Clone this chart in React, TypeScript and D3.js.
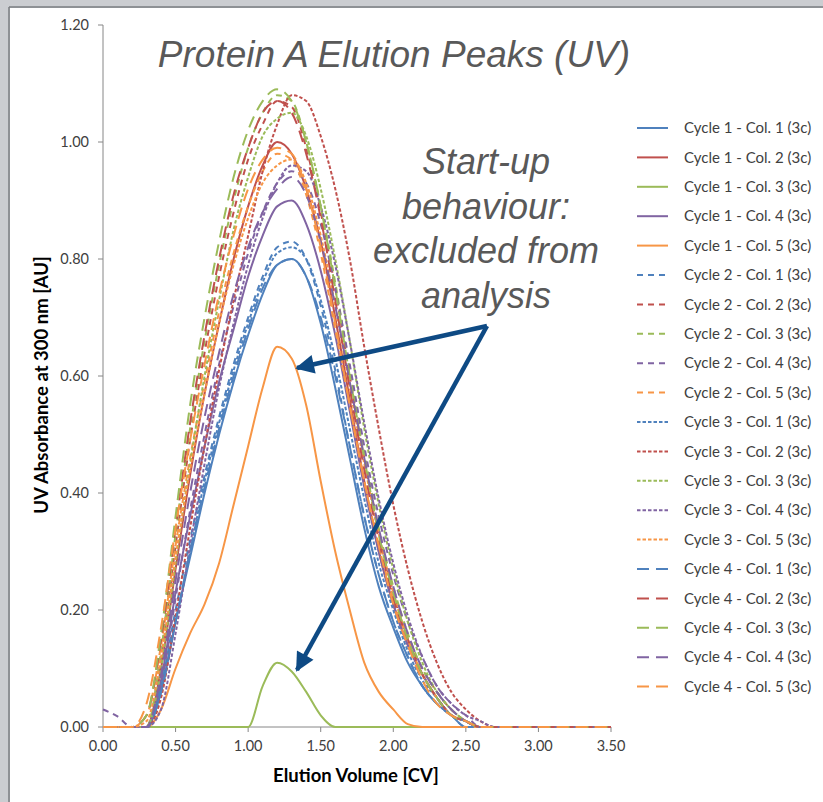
import * as d3 from "d3";
import React from "react";

// elution volume grid [CV]
const volume = [0, 0.1, 0.2, 0.3, 0.4, 0.5, 0.6, 0.7, 0.8, 0.9, 1.0, 1.1, 1.2, 1.3, 1.4, 1.5, 1.6, 1.7, 1.8, 1.9, 2.0, 2.1, 2.2, 2.3, 2.4, 2.5, 2.6, 2.7, 3.5];

// UV absorbance [AU], one array per run
const c1col1 = [0, 0, 0, 0, 0.06, 0.18, 0.29, 0.40, 0.50, 0.59, 0.67, 0.74, 0.79, 0.80, 0.77, 0.69, 0.58, 0.46, 0.34, 0.24, 0.17, 0.11, 0.07, 0.04, 0.02, 0, 0, 0, 0];
const c1col2 = [0, 0, 0, 0, 0.10, 0.27, 0.43, 0.57, 0.69, 0.80, 0.89, 0.96, 1.00, 0.98, 0.92, 0.83, 0.70, 0.56, 0.42, 0.30, 0.21, 0.14, 0.09, 0.05, 0.02, 0.01, 0, 0, 0];
const c1col3 = [0, 0, 0, 0, 0, 0, 0, 0, 0, 0, 0, 0.07, 0.11, 0.095, 0.06, 0.02, 0, 0, 0, 0, 0, 0, 0, 0, 0, 0, 0, 0, 0];
const c1col4 = [0, 0, 0, 0, 0.08, 0.23, 0.36, 0.48, 0.59, 0.68, 0.77, 0.84, 0.89, 0.90, 0.86, 0.78, 0.67, 0.54, 0.41, 0.30, 0.21, 0.14, 0.09, 0.05, 0.02, 0.01, 0, 0, 0];
const c1col5 = [0, 0, 0, 0, 0.03, 0.10, 0.16, 0.21, 0.28, 0.38, 0.48, 0.58, 0.65, 0.63, 0.55, 0.42, 0.30, 0.20, 0.11, 0.06, 0.03, 0.005, 0, 0, 0, 0, 0, 0, 0];
const c2col1 = [0, 0, 0, 0, 0.07, 0.20, 0.32, 0.43, 0.53, 0.62, 0.70, 0.77, 0.82, 0.83, 0.80, 0.72, 0.61, 0.48, 0.36, 0.26, 0.18, 0.12, 0.07, 0.04, 0.02, 0, 0, 0, 0];
const c2col2 = [0, 0, 0, 0, 0.12, 0.31, 0.49, 0.64, 0.77, 0.88, 0.97, 1.03, 1.07, 1.06, 0.99, 0.88, 0.75, 0.60, 0.46, 0.33, 0.23, 0.15, 0.10, 0.06, 0.03, 0.01, 0, 0, 0];
const c2col3 = [0, 0, 0, 0, 0.13, 0.33, 0.51, 0.66, 0.79, 0.90, 0.99, 1.05, 1.08, 1.07, 1.00, 0.89, 0.76, 0.61, 0.47, 0.34, 0.24, 0.16, 0.10, 0.06, 0.03, 0.01, 0, 0, 0];
const c2col4 = [0.03, 0.018, 0, 0, 0.07, 0.22, 0.37, 0.50, 0.62, 0.72, 0.81, 0.88, 0.93, 0.95, 0.93, 0.86, 0.75, 0.62, 0.48, 0.36, 0.26, 0.18, 0.12, 0.07, 0.04, 0.02, 0, 0, 0];
const c2col5 = [0, 0, 0, 0.02, 0.14, 0.31, 0.46, 0.59, 0.71, 0.81, 0.89, 0.95, 0.98, 0.97, 0.91, 0.81, 0.68, 0.55, 0.42, 0.31, 0.22, 0.15, 0.09, 0.05, 0.02, 0.01, 0, 0, 0];
const c3col1 = [0, 0, 0, 0, 0.06, 0.18, 0.30, 0.42, 0.52, 0.61, 0.69, 0.76, 0.81, 0.82, 0.80, 0.73, 0.63, 0.51, 0.39, 0.28, 0.20, 0.13, 0.08, 0.05, 0.02, 0.01, 0, 0, 0];
const c3col2 = [0, 0, 0, 0, 0.05, 0.19, 0.34, 0.48, 0.61, 0.73, 0.84, 0.95, 1.03, 1.08, 1.07, 1.01, 0.92, 0.80, 0.65, 0.51, 0.38, 0.27, 0.18, 0.11, 0.06, 0.03, 0.01, 0, 0];
const c3col3 = [0, 0, 0, 0, 0.10, 0.28, 0.45, 0.60, 0.73, 0.85, 0.94, 1.01, 1.04, 1.05, 1.01, 0.92, 0.80, 0.66, 0.51, 0.38, 0.27, 0.18, 0.11, 0.06, 0.03, 0.01, 0, 0, 0];
const c3col4 = [0, 0, 0, 0, 0.03, 0.16, 0.31, 0.45, 0.58, 0.69, 0.79, 0.87, 0.93, 0.96, 0.95, 0.89, 0.79, 0.66, 0.52, 0.39, 0.28, 0.19, 0.12, 0.07, 0.04, 0.02, 0.01, 0, 0];
const c3col5 = [0, 0, 0, 0.01, 0.12, 0.29, 0.44, 0.57, 0.69, 0.79, 0.87, 0.93, 0.96, 0.97, 0.93, 0.84, 0.72, 0.58, 0.45, 0.33, 0.23, 0.15, 0.09, 0.05, 0.02, 0.01, 0, 0, 0];
const c4col1 = [0, 0, 0, 0, 0.06, 0.18, 0.30, 0.41, 0.51, 0.60, 0.68, 0.75, 0.79, 0.80, 0.77, 0.70, 0.60, 0.48, 0.36, 0.26, 0.18, 0.12, 0.07, 0.04, 0.02, 0.01, 0, 0, 0];
const c4col2 = [0, 0, 0, 0.02, 0.15, 0.34, 0.52, 0.67, 0.80, 0.91, 0.99, 1.05, 1.07, 1.05, 0.98, 0.87, 0.73, 0.58, 0.44, 0.32, 0.22, 0.15, 0.09, 0.05, 0.02, 0.01, 0, 0, 0];
const c4col3 = [0, 0, 0, 0.02, 0.16, 0.36, 0.55, 0.70, 0.83, 0.94, 1.02, 1.07, 1.09, 1.07, 1.00, 0.89, 0.75, 0.60, 0.46, 0.33, 0.23, 0.15, 0.09, 0.05, 0.02, 0.01, 0, 0, 0];
const c4col4 = [0, 0, 0, 0, 0.09, 0.25, 0.40, 0.53, 0.64, 0.74, 0.82, 0.88, 0.92, 0.94, 0.91, 0.83, 0.72, 0.59, 0.46, 0.34, 0.24, 0.16, 0.10, 0.06, 0.03, 0.01, 0, 0, 0];
const c4col5 = [0, 0, 0, 0.04, 0.17, 0.34, 0.49, 0.62, 0.74, 0.84, 0.92, 0.97, 0.99, 0.98, 0.92, 0.82, 0.69, 0.55, 0.42, 0.31, 0.21, 0.14, 0.08, 0.04, 0.02, 0.01, 0, 0, 0];

const runs = [
  [c1col1, c1col2, c1col3, c1col4, c1col5],
  [c2col1, c2col2, c2col3, c2col4, c2col5],
  [c3col1, c3col2, c3col3, c3col4, c3col5],
  [c4col1, c4col2, c4col3, c4col4, c4col5],
];

const cycles = [1, 2, 3, 4];
const columns = [1, 2, 3, 4, 5];
const xTicks = [0, 0.5, 1, 1.5, 2, 2.5, 3, 3.5];
const yTicks = [0, 0.2, 0.4, 0.6, 0.8, 1.0, 1.2];

const colColors = ["#4F81BD", "#C0504D", "#9BBB59", "#8064A2", "#F79646"];
const cycleDash = [null, "6,5", "3.5,2", "12,7"];

const title = "Protein A Elution Peaks (UV)";
const note = ["Start-up", "behaviour:", "excluded from", "analysis"];

const font = "Lato, 'Liberation Sans', sans-serif";
const bigFont = "'Liberation Sans', Arial, sans-serif";

function App() {
  const width = 823;
  const height = 802;

  const x = d3.scaleLinear().domain([0, 3.5]).range([103, 611]);
  const y = d3.scaleLinear().domain([0, 1.2]).range([727, 25]);
  const fmt = d3.format(".2f");

  const line = d3.line<number>()
    .x((d, i) => x(volume[i]))
    .y((d) => y(d))
    .curve(d3.curveMonotoneX);

  const series = [];
  cycles.forEach((c, ci) => {
    columns.forEach((col, k) => {
      series.push({
        name: `Cycle ${c} - Col. ${col} (3c)`,
        values: runs[ci][k],
        color: colColors[k],
        dash: cycleDash[ci],
      });
    });
  });

  const arrowColor = "#0E4A84";
  const apex = [487, 326];
  const tips = [[297, 368], [297, 670]];

  return (
    <svg width={width} height={height} style={{ position: "absolute", left: 0, top: 0 }}>
      <defs>
        <marker id="head" viewBox="0 0 10 10" refX="9" refY="5" markerWidth="4.4" markerHeight="4.2" orient="auto" markerUnits="strokeWidth">
          <path d="M0,0 L10,5 L0,10 z" fill={arrowColor} />
        </marker>
      </defs>
      <rect width={width} height={height} fill="#CBCDD1" />
      <rect x={10} y={8} width={width - 10} height={height - 8} fill="#fff" />
      <line x1={9} y1={7} x2={9} y2={height} stroke="#7a7c80" strokeWidth={1.5} />
      <line x1={9} y1={7} x2={width} y2={7} stroke="#7a7c80" strokeWidth={1.5} />

      {/* axes */}
      <line x1={x(0)} y1={y(1.2)} x2={x(0)} y2={y(0)} stroke="#868686" />
      <line x1={x(0)} y1={y(0)} x2={x(3.5)} y2={y(0)} stroke="#868686" />
      {yTicks.map((t) => (
        <g key={"y" + t}>
          <line x1={x(0) - 5} x2={x(0)} y1={y(t)} y2={y(t)} stroke="#868686" />
          <text x={89} y={y(t)} dy="0.35em" textAnchor="end" fontFamily={font} fontSize={14.5} fill="#404040">{fmt(t)}</text>
        </g>
      ))}
      {xTicks.map((t) => (
        <g key={"x" + t}>
          <line x1={x(t)} x2={x(t)} y1={y(0)} y2={y(0) + 5} stroke="#868686" />
          <text x={x(t)} y={751} textAnchor="middle" fontFamily={font} fontSize={14.5} fill="#404040">{fmt(t)}</text>
        </g>
      ))}
      <text x={356} y={782} textAnchor="middle" fontFamily={font} fontWeight="bold" fontSize={18.5} fill="#000">Elution Volume [CV]</text>
      <text transform="translate(48,385) rotate(-90)" textAnchor="middle" fontFamily={font} fontWeight="bold" fontSize={18.5} fill="#000">UV Absorbance at 300 nm [AU]</text>

      {/* curves */}
      {series.map((s) => (
        <path key={s.name} d={line(s.values)} fill="none" stroke={s.color} strokeWidth={2} strokeDasharray={s.dash || undefined} />
      ))}

      {/* title + note */}
      <text x={394} y={67} textAnchor="middle" fontFamily={bigFont} fontStyle="italic" fontSize={37} fill="#595959">{title}</text>
      {note.map((t, i) => (
        <text key={t} x={486} y={174 + i * 44.5} textAnchor="middle" fontFamily={bigFont} fontStyle="italic" fontSize={36} fill="#595959">{t}</text>
      ))}
      {tips.map((tp, i) => (
        <line key={i} x1={apex[0]} y1={apex[1]} x2={tp[0]} y2={tp[1]} stroke={arrowColor} strokeWidth={4.5} markerEnd="url(#head)" />
      ))}

      {/* legend */}
      {series.map((s, i) => (
        <g key={"l" + s.name} transform={`translate(0,${128 + i * 29.4})`}>
          <line x1={637} x2={668} stroke={s.color} strokeWidth={2} strokeDasharray={s.dash || undefined} />
          <text x={684} dy="0.35em" fontFamily={font} fontSize={15} fill="#404040">{s.name}</text>
        </g>
      ))}
    </svg>
  );
}

export default App;
